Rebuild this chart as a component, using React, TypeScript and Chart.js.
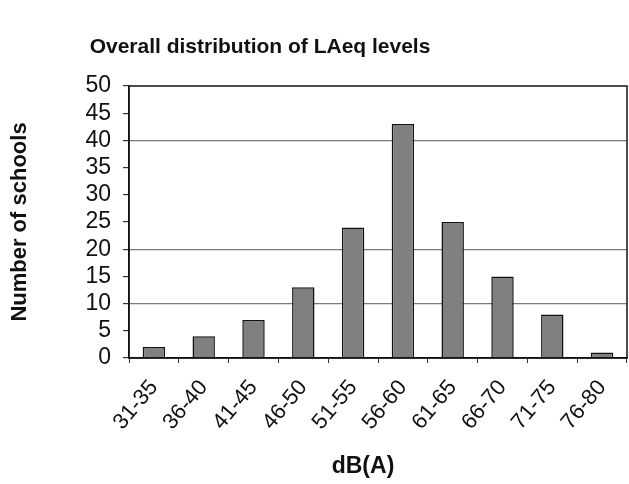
import React, { useEffect, useRef } from "react";
import { Chart, registerables } from "chart.js";
Chart.register(...registerables);

const categories = ["31-35", "36-40", "41-45", "46-50", "51-55", "56-60", "61-65", "66-70", "71-75", "76-80"];
const schools = [2, 4, 7, 13, 24, 43, 25, 15, 8, 1];
const gridValues = [10, 20, 40];
const chartTitle = "Overall distribution of LAeq levels";
const yTitle = "Number of schools";
const xTitle = "dB(A)";

const FONT = '"Liberation Sans", Arial, sans-serif';

export default function App() {
  const ref = useRef<HTMLCanvasElement>(null);
  useEffect(() => {
    const framePlugin = {
      id: "frame",
      afterDatasetsDraw(chart: any) {
        const { ctx, chartArea: a } = chart;
        ctx.save();
        ctx.strokeStyle = "#111";
        ctx.lineWidth = 1.5;
        ctx.strokeRect(a.left, a.top, a.right - a.left, a.bottom - a.top);
        ctx.restore();
      },
      afterDraw(chart: any) {
        const { ctx } = chart;
        ctx.save();
        ctx.textAlign = "center";
        ctx.textBaseline = "middle";
        ctx.fillStyle = "#111";
        ctx.font = `bold 21px ${FONT}`;
        ctx.fillText(chartTitle, 260, 47);
        ctx.font = `bold 23px ${FONT}`;
        ctx.fillText(xTitle, 363, 467);
        ctx.restore();
      },
    };
    const chart = new Chart(ref.current!, {
      type: "bar",
      data: {
        labels: categories,
        datasets: [
          {
            data: schools,
            backgroundColor: "#808080",
            borderColor: "#111",
            borderWidth: 1.5,
            categoryPercentage: 0.9,
            barPercentage: 0.5,
          },
        ],
      },
      options: {
        animation: false,
        responsive: false,
        layout: { padding: { top: 86, right: 2, left: 0, bottom: 0 } },
        plugins: { legend: { display: false }, tooltip: { enabled: false }, title: { display: false } },
        scales: {
          x: {
            offset: true,
            grid: { offset: true, color: "rgba(0,0,0,0)", tickColor: "#333", tickLength: 5, drawOnChartArea: false },
            border: { color: "#111", width: 1.5 },
            ticks: { color: "#111", font: { family: FONT, size: 22 }, minRotation: 50, maxRotation: 50, padding: 12, autoSkip: false },
            afterFit(scale: any) {
              scale.height = 484 - 358;
              scale.paddingLeft = 0;
              scale.paddingRight = 0;
            },
          },
          y: {
            min: 0,
            max: 50,
            ticks: { stepSize: 5, color: "#111", font: { family: FONT, size: 23 }, padding: 12, autoSkip: false },
            grid: {
              color: (c: any) => (gridValues.includes(c.tick?.value) ? "#7a7a7a" : "rgba(0,0,0,0)"),
              lineWidth: 1.2,
              tickColor: "#333",
              tickLength: 6,
            },
            border: { color: "#111", width: 1.5 },
            title: { display: true, text: yTitle, color: "#111", font: { family: FONT, size: 22, weight: "bold" }, padding: { top: 7, bottom: 0 } },
            afterFit(scale: any) {
              scale.width = 129;
              scale.paddingTop = 0;
              scale.paddingBottom = 0;
            },
          },
        },
      },
      plugins: [framePlugin],
    });
    return () => chart.destroy();
  }, []);
  return (
    <div style={{ position: "absolute", left: 0, top: 0, width: 629, height: 484, background: "#fff" }}>
      <canvas ref={ref} width={629} height={484} />
    </div>
  );
}
